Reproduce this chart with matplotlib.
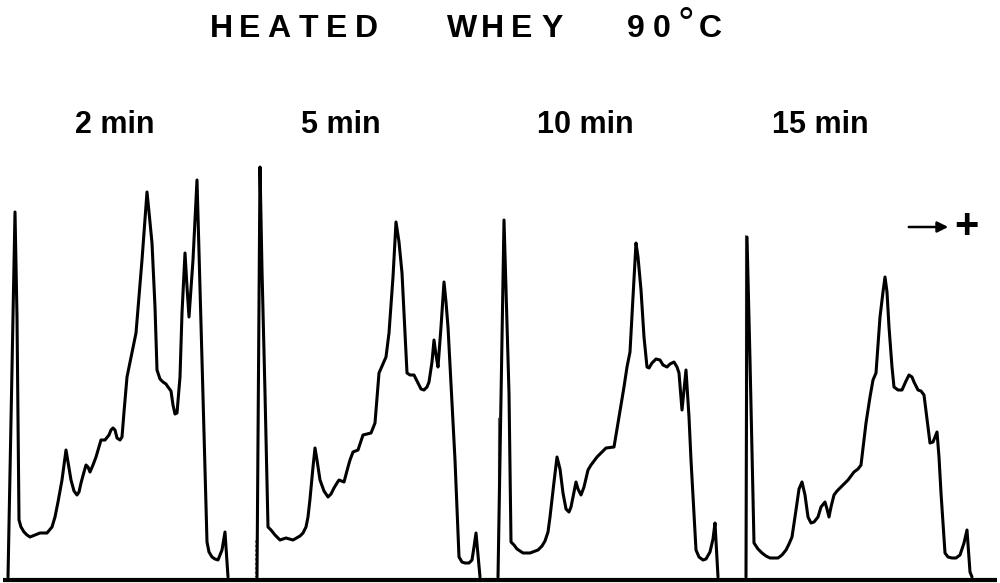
"""
    Densitometer traces of heated whey (90 C) after 2, 5, 10 and 15 min.
"""

import matplotlib
matplotlib.use("Agg")
import matplotlib.pyplot as plt

# migration distance (px from panel start) and density (px above baseline)
dist_2min = [8, 15, 17, 19, 21, 24, 27, 30, 35, 40, 47, 52, 55, 58, 62, 66, 68, 71, 74, 77, 79,
             81, 84, 86, 88, 90, 93, 96, 101, 105, 109, 111, 113, 115, 117, 120, 122, 124, 127,
             136, 142, 147, 149, 152, 155, 157, 160, 163, 166, 168, 171, 173, 175, 177, 180,
             182, 185, 187, 189, 193, 197, 202, 207, 209, 212, 215, 218, 222, 225, 228]
dens_2min = [0, 365, 260, 57, 50, 45, 42, 40, 42, 44, 44, 50, 60, 75, 97, 127, 115, 97, 86, 82, 85,
             94, 105, 112, 110, 105, 112, 120, 137, 137, 142, 147, 149, 147, 139, 137, 140, 165,
             200, 244, 317, 385, 365, 334, 270, 207, 198, 195, 193, 190, 186, 172, 163, 164, 200,
             264, 324, 290, 260, 317, 397, 217, 35, 25, 20, 18, 17, 27, 45, 0]

dist_5min = [7, 10, 12, 15, 18, 21, 25, 30, 36, 43, 50, 53, 56, 58, 60, 63, 65, 67, 70, 74, 78,
             81, 84, 87, 89, 94, 98, 100, 103, 108, 113, 121, 125, 129, 136, 139, 143, 146, 149,
             152, 157, 160, 164, 168, 171, 174, 177, 179, 182, 184, 186, 188, 191, 194, 196, 198,
             205, 209, 212, 215, 219, 222, 224, 226, 230]
dens_5min = [0, 410, 307, 184, 50, 47, 42, 37, 39, 37, 41, 44, 50, 60, 78, 110, 129, 117, 97, 86,
             80, 83, 89, 94, 97, 95, 110, 117, 125, 127, 142, 144, 154, 204, 220, 244, 300, 355,
             335, 304, 204, 202, 202, 194, 188, 187, 190, 195, 215, 237, 222, 210, 250, 295, 275,
             250, 117, 20, 15, 14, 14, 17, 30, 44, 0]

dist_10min = [8, 14, 19, 21, 24, 27, 33, 40, 48, 52, 55, 58, 60, 64, 67, 70, 73, 76, 79, 81, 83,
              86, 88, 91, 94, 98, 101, 104, 107, 110, 116, 124, 129, 134, 137, 140, 143, 146, 148,
              151, 154, 157, 159, 162, 166, 170, 173, 177, 180, 184, 187, 189, 192, 196, 199, 201,
              206, 209, 213, 216, 220, 223, 225, 228]
dens_10min = [0, 357, 184, 35, 32, 28, 24, 24, 27, 31, 36, 45, 60, 95, 120, 108, 84, 68, 65, 70,
              80, 95, 88, 82, 90, 107, 112, 116, 120, 123, 129, 130, 160, 190, 210, 225, 280, 334,
              320, 287, 240, 210, 209, 214, 218, 217, 212, 210, 213, 215, 210, 204, 167, 207, 160,
              117, 27, 20, 17, 18, 25, 38, 54, 0]

dist_15min = [6, 7, 10, 14, 18, 22, 26, 30, 34, 38, 42, 46, 49, 52, 56, 59, 62, 65, 68, 71, 74,
              78, 81, 85, 87, 89, 91, 94, 97, 100, 104, 108, 114, 118, 121, 126, 130, 133, 136,
              140, 143, 145, 147, 149, 152, 154, 158, 162, 166, 169, 172, 174, 178, 181, 184, 188,
              190, 193, 197, 199, 201, 205, 208, 212, 216, 220, 224, 227, 230, 232]
dens_15min = [0, 340, 217, 34, 28, 24, 21, 19, 19, 19, 22, 27, 33, 40, 67, 88, 95, 82, 60, 54, 55,
              60, 70, 75, 68, 60, 70, 82, 86, 89, 93, 97, 105, 108, 112, 154, 180, 197, 204, 260,
              285, 300, 285, 250, 210, 190, 187, 187, 196, 202, 200, 195, 187, 186, 182, 150, 134,
              135, 145, 120, 84, 24, 20, 19, 19, 22, 34, 47, 5, 0]

labels = ["2 min", "5 min", "10 min", "15 min"]
traces = [(dist_2min, dens_2min), (dist_5min, dens_5min),
          (dist_10min, dens_10min), (dist_15min, dens_15min)]

W, H = 1000, 583
panel_left = [0, 250, 490, 740]      # px
label_center = [115, 341, 585, 820]  # px
baseline = 577
panel_top = 160
sans = ["Liberation Sans", "DejaVu Sans"]

fig = plt.figure(figsize=(W / 100, H / 100), dpi=100)
fig.patch.set_facecolor("white")

# overlay axes in pixel coordinates for text and frame lines
over = fig.add_axes([0, 0, 1, 1])
over.set_xlim(0, W)
over.set_ylim(H, 0)
over.axis("off")

for i, (dist, dens) in enumerate(traces):
    ax = fig.add_axes([panel_left[i] / W, (H - baseline) / H, 250 / W, (baseline - panel_top) / H])
    ax.set_xlim(0, 250)
    ax.set_ylim(0, baseline - panel_top)
    ax.axis("off")
    ax.plot(dist, dens, color="black", lw=2.2, solid_joinstyle="round",
            solid_capstyle="round", clip_on=False)
    over.text(label_center[i], 133, labels[i], ha="center", va="baseline",
              fontsize=22, fontweight="bold", family=sans)

# baseline and faint panel edges
over.plot([3, 997], [579.5, 579.5], color="black", lw=3, solid_capstyle="butt")
over.plot([255, 255], [540, 577], color="0.45", lw=0.8, ls=(0, (2, 2)))
over.plot([498, 498], [418, 577], color="0.35", lw=0.8)
over.plot([745, 745], [235, 577], color="0.45", lw=0.8)


# letter-spaced title
def spaced(word, x_first, advance, y):
    for k, ch in enumerate(word):
        over.text(x_first + k * advance, y, ch, ha="center", va="baseline",
                  fontsize=23, fontweight="bold", family=sans)


spaced("HEATED", 221, 29, 37)
spaced("WHEY", 462, 30, 37)
spaced("90", 636, 26, 37)
over.text(686, 37, "°", ha="center", va="baseline", fontsize=30, family=sans)
spaced("C", 710, 0, 37)

# direction of migration
over.annotate("", xy=(951, 227), xytext=(906, 227),
              arrowprops=dict(arrowstyle="-|>", color="black", lw=1.8, mutation_scale=16))
over.text(966, 238, "+", ha="center", va="baseline", fontsize=30, fontweight="bold",
          family=sans)

fig.savefig("out.png", dpi=100, facecolor="white")
